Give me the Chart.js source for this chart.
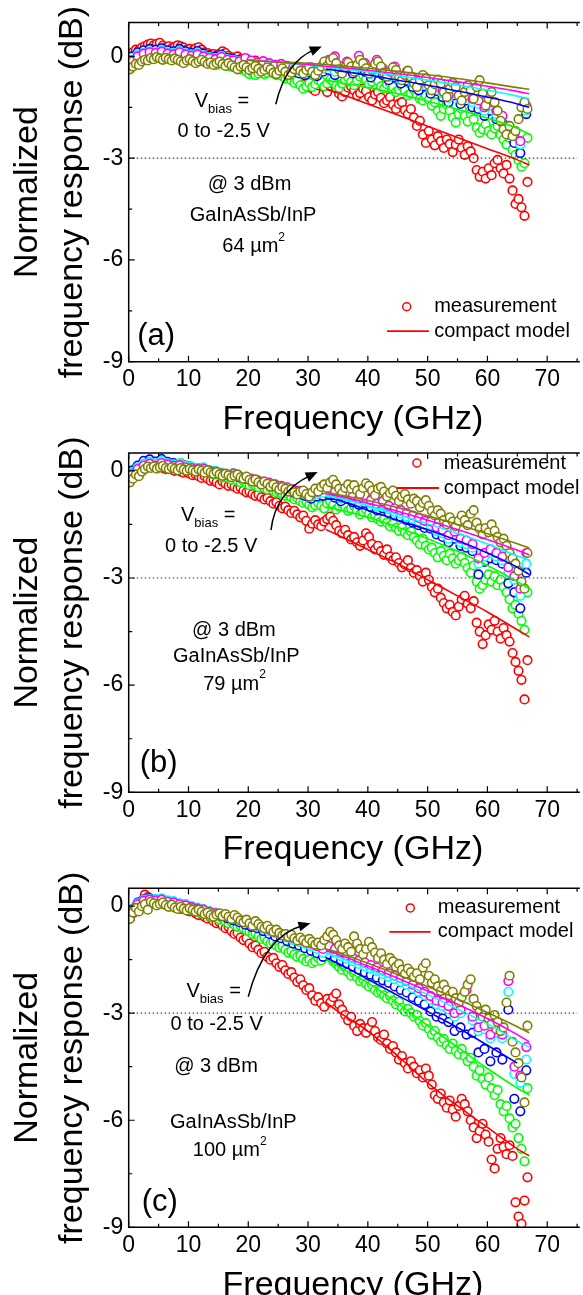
<!DOCTYPE html>
<html><head><meta charset="utf-8">
<script src="https://cdn.jsdelivr.net/npm/chart.js@4.4.1/dist/chart.umd.min.js"></script>
<style>
html,body{margin:0;padding:0;background:#fff;width:583px;height:1295px;overflow:hidden;position:relative}
canvas{position:absolute;left:0}
</style></head><body>
<canvas id="ca" width="583" height="440" style="top:0px"></canvas>
<canvas id="cb" width="583" height="440" style="top:430px"></canvas>
<canvas id="cc" width="583" height="446" style="top:860px"></canvas>
<script>
const FONT = "'Liberation Sans', Arial, Helvetica, sans-serif";

// ---------- shared categories / ticks ----------
const freqFine = [0.2,0.7,1.2,1.7,2.2,2.7,3.2,3.7,4.2,4.7,5.2,5.7,6.2,6.7,7.2,7.7,8.2,8.7,9.2,9.7,
10.2,10.7,11.2,11.7,12.2,12.7,13.2,13.7,14.2,14.7,15.2,15.7,16.2,16.7,17.2,17.7,18.2,18.7,19.2,19.7,
20.2,20.7,21.2,21.7,22.2,22.7,23.2,23.7,24.2,24.7,25.2,25.7,26.2,26.7,27.2,27.7,28.2,28.7,29.2,29.7,
30.2,30.7,31.2,31.7,32.2,32.7,33.2,33.7,34.2,34.7,35.2,35.7,36.2,36.7,37.2,37.7,38.2,38.7,39.2,39.7,
40.2,40.7,41.2,41.7,42.2,42.7,43.2,43.7,44.2,44.7,45.2,45.7,46.2,46.7,47.2,47.7,48.2,48.7,49.2,49.7,
50.2,50.7,51.2,51.7,52.2,52.7,53.2,53.7,54.2,54.7,55.2,55.7,56.2,56.7,57.2,57.7,58.2,58.7,59.2,59.7,
60.2,60.7,61.2,61.7,62.2,62.7,63.2,63.7,64.2,64.7,65.2,65.7,66.2,66.7];
const freqCoarse = [0.5,1.5,2.5,3.5,4.5,5.5,6.5,7.5,8.5,9.5,10.5,11.5,12.5,13.5,14.5,15.5,16.5,17.5,18.5,19.5,
20.5,21.5,22.5,23.5,24.5,25.5,26.5,27.5,28.5,29.5,30.5,31.5,32.5,33.5,34.5,35.5,36.5,37.5,38.5,39.5,
40.5,41.5,42.5,43.5,44.5,45.5,46.5,47.5,48.5,49.5,50.5,51.5,52.5,53.5,54.5,55.5,56.5,57.5,58.5,59.5,
60.5,61.5,62.5,63.5,64.5,65.5,66.5];
const modelFreq = [20,25,30,33,35,40,45,50,55,60,65,67];
const xTickValues = [0,10,20,30,40,50,60,70];
const xTickLabels = ['0','10','20','30','40','50','60','70'];
const yTickValues = [0,-3,-6,-9];
const yTickLabels = ['0','-3','-6','-9'];
const yTitleLines = ['Normalized','frequency response (dB)'];
const xTitle = 'Frequency (GHz)';
const legendLabels = ['measurement','compact model'];
const refLevel = -3;

// ---------- panel (a) 64 um2 ----------
const redA = [0.05,0.12,0.2,0.18,0.26,0.3,0.35,0.38,0.33,0.37,
0.4,0.32,0.27,0.3,0.24,0.28,0.33,0.3,0.26,0.2,
0.22,0.17,0.24,0.27,0.2,0.12,0.1,0.05,0.07,0.02,
0.08,0.15,0.1,0.02,-0.03,-0.05,0.0,-0.08,-0.12,-0.07,
-0.15,-0.18,-0.12,-0.2,-0.27,-0.22,-0.3,-0.35,-0.28,-0.4,
-0.45,-0.38,-0.52,-0.6,-0.55,-0.68,-0.75,-0.65,-0.82,-0.9,
-0.8,-0.95,-1.02,-0.85,-0.78,-0.92,-1.05,-0.88,-0.8,-0.95,
-1.1,-1.18,-1.05,-0.92,-0.88,-1.0,-1.15,-1.08,-0.95,-1.02,
-1.2,-1.3,-1.12,-1.05,-1.22,-1.38,-1.3,-1.2,-1.42,-1.55,
-1.4,-1.35,-1.58,-1.7,-1.55,-1.8,-2.05,-1.9,-2.3,-2.55,
-2.2,-2.45,-2.62,-2.35,-2.5,-2.7,-2.45,-2.58,-2.82,-2.6,
-2.45,-2.7,-2.9,-2.65,-2.8,-3.0,-3.35,-3.55,-3.4,-3.6,
-3.3,-3.5,-3.15,-3.05,-3.3,-3.45,-3.2,-3.6,-3.95,-4.35,
-4.2,-4.45,-4.7,-3.7];
const greenA = [-0.32,-0.25,-0.18,-0.12,-0.08,-0.05,-0.02,-0.04,0.0,0.02,
-0.03,-0.05,0.0,-0.04,-0.08,-0.05,-0.02,-0.06,-0.1,-0.12,
-0.08,-0.05,-0.1,-0.14,-0.1,-0.16,-0.2,-0.17,-0.22,-0.25,
-0.2,-0.15,-0.22,-0.28,-0.3,-0.25,-0.32,-0.38,-0.35,-0.45,
-0.52,-0.48,-0.55,-0.5,-0.45,-0.52,-0.48,-0.42,-0.5,-0.55,
-0.5,-0.58,-0.65,-0.6,-0.7,-0.78,-0.72,-0.85,-0.95,-0.88,
-0.78,-0.9,-0.82,-0.7,-0.75,-0.88,-0.8,-0.68,-0.72,-0.85,
-0.92,-0.8,-0.7,-0.62,-0.75,-0.85,-0.7,-0.6,-0.55,-0.68,
-0.82,-0.75,-0.65,-0.72,-0.88,-0.95,-0.82,-0.78,-0.9,-1.05,
-0.98,-0.88,-1.0,-1.15,-1.1,-0.98,-1.12,-1.25,-1.3,-1.15,
-1.28,-1.45,-1.35,-1.6,-1.75,-1.55,-1.42,-1.6,-1.8,-1.95,
-1.7,-1.55,-1.75,-1.92,-1.68,-1.85,-2.1,-2.25,-2.15,-2.0,
-2.2,-2.3,-2.12,-2.05,-2.3,-2.45,-2.6,-2.4,-2.75,-2.9,
-3.05,-3.25,-3.15,-2.4];
const blueA = [0.0,0.12,0.18,0.22,0.2,0.24,0.18,0.15,0.22,0.15,
0.1,0.16,0.08,0.02,0.0,0.05,-0.05,-0.08,-0.12,-0.08,
-0.15,-0.2,-0.18,-0.25,-0.32,-0.28,-0.38,-0.45,-0.5,-0.55,
-0.48,-0.58,-0.45,-0.4,-0.55,-0.48,-0.35,-0.5,-0.38,-0.45,
-0.62,-0.48,-0.55,-0.7,-0.62,-0.8,-0.72,-0.9,-1.0,-0.88,
-1.1,-1.02,-1.2,-1.35,-1.15,-1.4,-1.3,-1.5,-1.55,-1.75,
-1.6,-1.85,-1.95,-2.3,-2.55,-2.85,-1.7];
const cyanA = [-0.1,0.05,0.1,0.15,0.12,0.18,0.12,0.1,0.16,0.1,
0.05,0.1,0.04,-0.02,-0.05,0.02,-0.08,-0.1,-0.14,-0.1,
-0.15,-0.2,-0.16,-0.22,-0.28,-0.25,-0.32,-0.38,-0.42,-0.48,
-0.4,-0.5,-0.35,-0.3,-0.45,-0.38,-0.25,-0.4,-0.28,-0.35,
-0.52,-0.38,-0.45,-0.6,-0.52,-0.7,-0.6,-0.78,-0.9,-0.75,
-0.98,-0.9,-1.08,-1.22,-1.02,-1.28,-1.15,-1.35,-1.4,-1.6,
-1.45,-1.7,-1.8,-2.1,-2.35,-2.6,-1.6];
const magentaA = [-0.15,0.0,0.08,0.12,0.1,0.14,0.08,0.06,0.12,0.06,
0.02,0.06,0.0,-0.05,-0.08,-0.02,-0.1,-0.12,-0.15,-0.05,
-0.12,-0.18,-0.14,-0.2,-0.25,-0.22,-0.28,-0.32,-0.35,-0.4,
-0.32,-0.42,-0.25,-0.1,0.0,-0.3,-0.15,-0.3,0.02,-0.2,
-0.42,-0.1,-0.35,-0.5,-0.3,-0.6,-0.45,-0.62,-0.8,-0.6,
-0.9,-0.75,-1.0,-1.15,-0.9,-1.2,-1.0,-1.25,-1.3,-1.5,
-1.35,-1.6,-1.75,-2.05,-2.3,-2.5,-1.45];
const oliveA = [-0.38,-0.3,-0.22,-0.25,-0.15,-0.1,-0.12,-0.05,-0.08,-0.02,
-0.06,-0.1,-0.04,-0.08,-0.12,-0.06,-0.1,-0.15,-0.2,-0.12,
-0.08,-0.14,-0.2,-0.15,-0.1,-0.16,-0.22,-0.18,-0.25,-0.2,
-0.15,-0.22,-0.28,-0.2,-0.26,-0.32,-0.38,-0.3,-0.25,-0.32,
-0.4,-0.35,-0.28,-0.36,-0.45,-0.4,-0.32,-0.38,-0.48,-0.52,
-0.42,-0.35,-0.45,-0.55,-0.48,-0.38,-0.3,-0.42,-0.5,-0.4,
-0.32,-0.45,-0.55,-0.42,-0.3,-0.15,-0.28,-0.12,-0.05,-0.2,
-0.38,-0.5,-0.32,-0.18,-0.3,-0.45,-0.25,-0.1,-0.2,-0.35,
-0.5,-0.4,-0.22,-0.15,-0.3,-0.48,-0.6,-0.45,-0.32,-0.4,
-0.58,-0.7,-0.55,-0.42,-0.6,-0.78,-0.9,-0.7,-0.55,-0.65,
-0.85,-1.0,-0.82,-0.68,-0.8,-1.05,-1.2,-0.95,-0.78,-0.9,
-1.15,-1.3,-1.05,-0.85,-1.0,-1.25,-0.9,-0.7,-1.1,-1.45,
-1.25,-1.05,-1.35,-1.6,-1.9,-2.15,-2.3,-2.05,-2.35,-2.2,
-1.85,-1.5,-1.35,-1.55];
const modelRedA = [null,null,null,-0.95,-1.08,-1.4,-1.73,-2.06,-2.39,-2.72,-3.05,-3.2];
const modelGreenA = [null,null,null,-0.7,-0.76,-0.92,-1.1,-1.32,-1.56,-1.82,-2.12,-2.3];
const modelBlueA = [null,null,null,-0.37,-0.42,-0.55,-0.7,-0.85,-1.02,-1.2,-1.4,-1.5];
const modelCyanA = [-0.1,-0.18,-0.26,-0.31,-0.35,-0.45,-0.57,-0.7,-0.84,-0.99,-1.17,-1.25];
const modelMagentaA = [-0.1,-0.17,-0.24,-0.29,-0.32,-0.41,-0.51,-0.62,-0.75,-0.88,-1.03,-1.1];
const modelOliveA = [-0.12,-0.16,-0.2,-0.24,-0.27,-0.35,-0.44,-0.54,-0.65,-0.78,-0.92,-0.97];

// ---------- panel (b) 79 um2 ----------
const redB = [-0.15,0.0,0.08,0.12,0.15,0.22,0.18,0.12,0.15,0.1,
0.14,0.08,0.05,0.1,0.04,0.0,0.03,-0.02,-0.05,-0.02,
-0.08,-0.12,-0.1,-0.15,-0.2,-0.15,-0.22,-0.28,-0.25,-0.32,
-0.38,-0.3,-0.36,-0.42,-0.38,-0.45,-0.5,-0.46,-0.55,-0.6,
-0.58,-0.65,-0.7,-0.66,-0.74,-0.8,-0.76,-0.85,-0.92,-0.88,
-0.98,-1.05,-1.0,-1.1,-1.18,-1.12,-1.22,-1.3,-1.25,-1.4,
-1.62,-1.48,-1.38,-1.5,-1.55,-1.42,-1.35,-1.28,-1.4,-1.52,
-1.68,-1.75,-1.65,-1.8,-1.92,-1.85,-2.0,-2.1,-1.95,-1.75,
-1.85,-2.05,-2.2,-2.1,-2.25,-2.35,-2.2,-2.4,-2.5,-2.42,
-2.58,-2.7,-2.62,-2.5,-2.72,-2.85,-2.78,-2.95,-3.1,-2.85,
-3.05,-3.25,-3.4,-3.3,-3.55,-3.7,-3.85,-3.75,-3.95,-4.05,
-3.8,-3.6,-3.5,-3.72,-3.85,-3.65,-4.25,-4.5,-4.85,-4.6,
-4.3,-4.45,-4.2,-4.5,-4.7,-4.4,-4.6,-4.78,-5.1,-5.35,
-5.6,-5.85,-6.4,-5.3];
const greenB = [-0.08,0.02,0.08,0.12,0.18,0.25,0.22,0.26,0.2,0.24,
0.28,0.2,0.16,0.22,0.18,0.12,0.17,0.22,0.15,0.1,
0.14,0.08,0.03,0.07,0.0,-0.04,0.02,-0.06,-0.1,-0.05,
-0.12,-0.18,-0.14,-0.2,-0.25,-0.2,-0.27,-0.32,-0.28,-0.35,
-0.4,-0.36,-0.42,-0.46,-0.4,-0.48,-0.52,-0.47,-0.55,-0.6,
-0.58,-0.65,-0.7,-0.66,-0.74,-0.8,-0.76,-0.85,-0.9,-0.86,
-0.95,-1.02,-0.96,-0.9,-0.98,-1.05,-0.92,-0.85,-0.95,-1.08,
-1.0,-0.92,-1.02,-1.12,-1.05,-0.98,-1.1,-1.22,-1.15,-1.08,
-1.2,-1.3,-1.22,-1.35,-1.42,-1.35,-1.45,-1.55,-1.48,-1.6,
-1.68,-1.58,-1.72,-1.8,-1.7,-1.85,-1.95,-2.05,-1.9,-2.1,
-2.2,-2.15,-2.3,-2.42,-2.25,-2.38,-2.5,-2.32,-2.45,-2.6,
-2.5,-2.4,-2.58,-2.72,-2.85,-2.65,-3.1,-3.3,-3.2,-3.05,
-2.9,-3.1,-2.95,-3.2,-3.05,-3.25,-3.4,-3.6,-3.85,-3.75,
-4.0,-4.2,-4.45,-3.4];
const blueB = [0.0,0.15,0.28,0.32,0.26,0.33,0.25,0.22,0.18,0.15,
0.1,0.08,0.05,0.0,-0.02,-0.08,-0.12,-0.1,-0.18,-0.22,
-0.26,-0.3,-0.35,-0.38,-0.42,-0.48,-0.52,-0.6,-0.65,-0.7,
-0.78,-0.72,-0.7,-0.68,-0.75,-0.85,-0.78,-0.88,-0.95,-0.9,
-1.02,-1.1,-1.05,-1.18,-1.25,-1.3,-1.38,-1.45,-1.52,-1.6,
-1.62,-1.78,-1.85,-2.0,-1.9,-2.1,-2.15,-2.25,-2.9,-2.55,
-2.45,-2.5,-2.6,-3.15,-3.4,-3.85,-2.85];
const cyanB = [-0.05,0.1,0.2,0.25,0.2,0.28,0.22,0.18,0.2,0.14,
0.12,0.08,0.1,0.02,0.0,-0.05,-0.1,-0.06,-0.15,-0.2,
-0.24,-0.28,-0.32,-0.35,-0.4,-0.45,-0.5,-0.56,-0.6,-0.66,
-0.72,-0.65,-0.62,-0.58,-0.68,-0.78,-0.7,-0.8,-0.86,-0.8,
-0.92,-1.0,-0.95,-1.08,-1.15,-1.2,-1.28,-1.35,-1.42,-1.5,
-1.52,-1.68,-1.75,-1.9,-1.8,-2.0,-2.05,-2.15,-2.6,-2.4,
-2.3,-2.4,-2.5,-2.85,-3.05,-3.5,-2.6];
const magentaB = [-0.1,0.05,0.15,0.2,0.15,0.22,0.18,0.14,0.16,0.1,
0.08,0.05,0.06,0.0,-0.03,-0.08,-0.12,-0.08,-0.16,-0.2,
-0.22,-0.26,-0.3,-0.33,-0.38,-0.42,-0.46,-0.52,-0.56,-0.6,
-0.66,-0.58,-0.52,-0.45,-0.58,-0.7,-0.6,-0.7,-0.78,-0.68,
-0.82,-0.92,-0.85,-0.98,-1.05,-1.1,-1.18,-1.25,-1.32,-1.4,
-1.42,-1.58,-1.65,-1.8,-1.7,-1.9,-1.95,-2.05,-2.45,-2.3,
-2.2,-2.3,-2.4,-2.7,-2.95,-3.3,-2.3];
const oliveB = [-0.32,-0.22,-0.1,-0.15,-0.02,0.05,0.12,0.08,0.12,0.06,
0.1,0.14,0.08,0.05,0.1,0.06,0.02,0.08,0.04,0.0,
0.05,0.02,-0.02,0.04,0.0,-0.05,0.02,-0.04,-0.08,-0.03,
-0.1,-0.14,-0.08,-0.12,-0.18,-0.14,-0.1,-0.18,-0.22,-0.16,
-0.25,-0.3,-0.24,-0.32,-0.38,-0.3,-0.36,-0.44,-0.38,-0.46,
-0.52,-0.45,-0.5,-0.58,-0.52,-0.6,-0.66,-0.58,-0.55,-0.65,
-0.72,-0.6,-0.5,-0.58,-0.45,-0.38,-0.48,-0.32,-0.25,-0.38,
-0.5,-0.62,-0.48,-0.38,-0.5,-0.4,-0.55,-0.65,-0.48,-0.35,
-0.42,-0.55,-0.68,-0.5,-0.45,-0.58,-0.72,-0.62,-0.55,-0.7,
-0.85,-0.72,-0.65,-0.8,-0.92,-0.78,-0.85,-1.02,-0.9,-0.82,
-0.98,-1.12,-1.25,-1.1,-1.2,-1.38,-1.5,-1.3,-1.42,-1.55,
-1.4,-1.25,-1.38,-1.52,-1.2,-1.1,-1.45,-1.62,-1.78,-1.6,
-1.72,-1.5,-1.68,-1.85,-2.0,-1.9,-2.1,-2.3,-2.45,-2.6,
-2.8,-3.1,-3.3,-2.3];
const modelRedB = [null,null,null,-1.64,-1.8,-2.2,-2.6,-3.05,-3.5,-3.95,-4.45,-4.65];
const modelGreenB = [null,null,null,-1.0,-1.08,-1.3,-1.58,-1.9,-2.25,-2.65,-3.1,-3.3];
const modelBlueB = [null,null,null,-0.76,-0.82,-1.1,-1.38,-1.65,-1.95,-2.3,-2.7,-2.9];
const modelCyanB = [null,null,null,-0.7,-0.75,-0.98,-1.22,-1.48,-1.75,-2.05,-2.38,-2.5];
const modelMagentaB = [null,null,null,-0.64,-0.7,-0.9,-1.13,-1.38,-1.64,-1.92,-2.22,-2.35];
const modelOliveB = [null,null,null,-0.6,-0.66,-0.83,-1.03,-1.26,-1.5,-1.76,-2.04,-2.16];

// ---------- panel (c) 100 um2 ----------
const redC = [-0.35,-0.2,-0.05,0.05,0.15,0.32,0.25,0.18,0.12,0.15,
0.1,0.06,0.1,0.04,0.0,0.02,-0.04,-0.08,-0.05,-0.12,
-0.15,-0.12,-0.2,-0.25,-0.22,-0.3,-0.35,-0.32,-0.42,-0.48,
-0.45,-0.55,-0.62,-0.58,-0.7,-0.78,-0.75,-0.88,-0.95,-0.9,
-1.05,-1.15,-1.1,-1.22,-1.32,-1.28,-1.42,-1.5,-1.45,-1.6,
-1.7,-1.65,-1.8,-1.9,-1.85,-2.0,-2.12,-2.05,-2.22,-2.35,
-2.3,-2.5,-2.65,-2.55,-2.72,-2.82,-2.6,-2.7,-2.55,-2.45,
-2.75,-2.9,-3.05,-3.2,-3.1,-3.35,-3.5,-3.3,-3.42,-3.55,
-3.4,-3.25,-3.5,-3.68,-3.75,-3.6,-3.85,-4.0,-3.92,-4.1,
-4.3,-4.2,-4.4,-4.55,-4.35,-4.5,-4.68,-4.6,-4.8,-4.55,
-4.75,-5.0,-5.3,-5.4,-5.25,-5.5,-5.65,-5.45,-5.7,-5.9,
-5.6,-5.4,-5.55,-5.75,-6.0,-6.2,-6.5,-6.3,-6.1,-6.4,
-6.6,-7.1,-7.35,-6.8,-6.5,-6.75,-6.95,-6.7,-7.0,-8.3,
-8.7,-8.9,-8.25,-7.6];
const greenC = [-0.25,-0.12,0.0,0.05,0.1,0.15,0.12,0.18,0.14,0.1,
0.15,0.08,0.04,0.08,0.02,0.0,0.04,-0.03,-0.06,-0.02,
-0.08,-0.12,-0.1,-0.16,-0.2,-0.17,-0.24,-0.3,-0.26,-0.33,
-0.38,-0.35,-0.42,-0.48,-0.44,-0.52,-0.58,-0.55,-0.62,-0.68,
-0.72,-0.78,-0.75,-0.85,-0.92,-0.88,-0.98,-1.05,-1.0,-1.1,
-1.16,-1.12,-1.22,-1.3,-1.26,-1.35,-1.42,-1.38,-1.48,-1.55,
-1.5,-1.6,-1.55,-1.45,-1.52,-1.38,-1.3,-1.42,-1.55,-1.62,
-1.7,-1.78,-1.72,-1.85,-1.95,-1.88,-2.0,-2.1,-2.05,-2.18,
-2.25,-2.2,-2.35,-2.42,-2.38,-2.5,-2.58,-2.52,-2.65,-2.75,
-2.68,-2.85,-2.95,-2.88,-3.0,-3.1,-3.05,-3.22,-3.35,-3.28,
-3.45,-3.6,-3.5,-3.68,-3.8,-3.72,-3.9,-4.0,-3.85,-4.05,
-4.15,-4.0,-4.2,-4.35,-4.25,-4.5,-4.75,-4.6,-4.85,-5.0,
-4.8,-5.1,-5.3,-5.15,-5.55,-5.75,-5.6,-5.95,-6.2,-6.1,
-6.5,-6.8,-7.15,-5.1];
const blueC = [-0.1,0.1,0.2,0.22,0.18,0.2,0.14,0.12,0.06,0.04,
-0.02,-0.06,-0.12,-0.18,-0.22,-0.28,-0.34,-0.4,-0.45,-0.52,
-0.58,-0.62,-0.7,-0.78,-0.85,-0.9,-0.98,-1.05,-1.1,-1.18,
-1.25,-1.32,-1.42,-1.35,-1.45,-1.55,-1.62,-1.7,-1.78,-1.85,
-1.92,-2.0,-2.08,-2.15,-2.25,-2.35,-2.42,-2.55,-2.65,-2.75,
-2.95,-3.1,-3.15,-3.25,-3.5,-3.4,-3.6,-3.55,-4.1,-4.0,
-4.35,-4.1,-4.3,-2.9,-5.4,-5.75,-4.6];
const cyanC = [-0.12,0.08,0.18,0.2,0.2,0.22,0.16,0.14,0.08,0.06,
0.0,-0.04,-0.08,-0.14,-0.18,-0.24,-0.3,-0.35,-0.4,-0.46,
-0.52,-0.56,-0.63,-0.7,-0.76,-0.82,-0.88,-0.95,-1.0,-1.06,
-1.12,-1.2,-1.3,-1.22,-1.3,-1.4,-1.48,-1.55,-1.62,-1.68,
-1.75,-1.82,-1.9,-1.98,-2.05,-2.12,-2.2,-2.3,-2.4,-2.5,
-2.62,-2.75,-2.8,-2.9,-3.1,-3.0,-2.6,-3.2,-3.5,-3.45,
-3.7,-3.55,-3.7,-2.4,-4.7,-4.95,-4.3];
const magentaC = [-0.15,0.05,0.15,0.18,0.16,0.18,0.12,0.1,0.05,0.02,
-0.03,-0.07,-0.1,-0.16,-0.2,-0.26,-0.3,-0.34,-0.38,-0.44,
-0.5,-0.54,-0.6,-0.66,-0.72,-0.78,-0.84,-0.9,-0.95,-1.0,
-1.05,-1.12,-1.2,-1.12,-1.2,-1.3,-1.38,-1.45,-1.52,-1.58,
-1.65,-1.72,-1.8,-1.88,-1.95,-2.02,-2.1,-2.2,-2.3,-2.4,
-2.52,-2.65,-2.7,-2.8,-3.0,-2.9,-2.35,-3.1,-3.4,-3.35,
-3.6,-3.45,-3.6,-2.1,-4.5,-4.75,-3.95];
const oliveC = [-0.35,-0.18,-0.05,-0.15,0.0,0.05,-0.1,0.12,0.08,0.02,
0.06,0.1,0.03,-0.02,0.04,-0.04,-0.08,-0.02,-0.07,-0.12,
-0.06,-0.1,-0.15,-0.1,-0.16,-0.22,-0.18,-0.25,-0.3,-0.24,
-0.2,-0.28,-0.22,-0.3,-0.36,-0.25,-0.32,-0.4,-0.45,-0.38,
-0.48,-0.55,-0.42,-0.5,-0.58,-0.62,-0.55,-0.65,-0.72,-0.66,
-0.75,-0.82,-0.78,-0.86,-0.8,-0.9,-0.96,-0.88,-0.95,-1.02,
-0.92,-1.0,-1.08,-1.02,-1.1,-0.95,-0.85,-0.72,-0.8,-0.95,
-1.1,-1.2,-1.05,-1.15,-1.28,-0.85,-1.05,-1.2,-1.35,-1.2,
-1.0,-1.15,-1.3,-1.45,-1.32,-1.5,-1.62,-1.45,-1.55,-1.7,
-1.62,-1.78,-1.9,-1.75,-1.85,-1.98,-1.88,-2.05,-1.72,-1.6,
-1.95,-2.15,-2.05,-2.25,-2.38,-2.2,-2.35,-2.5,-2.4,-2.58,
-2.7,-2.55,-2.4,-2.2,-2.05,-2.6,-2.8,-2.95,-3.1,-2.9,
-3.15,-3.3,-3.05,-3.25,-3.5,-3.4,-2.7,-1.95,-3.8,-4.1,
-4.4,-4.8,-5.5,-3.35];
const modelRedC = [null,null,null,-2.7,-2.95,-3.5,-4.2,-4.95,-5.6,-6.2,-6.8,-7.0];
const modelGreenC = [null,null,null,-1.5,-1.68,-2.15,-2.72,-3.35,-3.95,-4.55,-5.1,-5.3];
const modelBlueC = [null,null,null,-1.45,-1.6,-2.05,-2.5,-2.95,-3.4,-3.9,-4.4,null];
const modelCyanC = [null,null,null,-1.3,-1.42,-1.76,-2.1,-2.48,-2.88,-3.3,-3.78,-3.95];
const modelMagentaC = [null,null,null,-1.25,-1.35,-1.68,-2.02,-2.38,-2.75,-3.15,-3.6,-3.8];
const modelOliveC = [null,null,null,-1.2,-1.3,-1.6,-1.92,-2.25,-2.6,-2.98,-3.38,-3.55];

// ---------- styling ----------
const SERIES = ['red','green','blue','cyan','magenta','olive'];
const COLORS = {red:'#ff0000', green:'#00ff00', blue:'#0000ff', cyan:'#00ffff', magenta:'#ff00ff', olive:'#808000'};
const FREQ_OF = {red:freqFine, green:freqFine, olive:freqFine, blue:freqCoarse, cyan:freqCoarse, magenta:freqCoarse};

function pts(name, xs, ys) {
  if (xs.length !== ys.length) throw new Error('length mismatch ' + name + ': ' + xs.length + ' vs ' + ys.length);
  return xs.map((x, i) => ({x: x, y: ys[i]}));
}

const panels = [
  { id:'ca', padTop:22.5, xAxisH:78.3, yMax:1,
    meas:{red:redA, green:greenA, blue:blueA, cyan:cyanA, magenta:magentaA, olive:oliveA},
    model:{red:modelRedA, green:modelGreenA, blue:modelBlueA, cyan:modelCyanA, magenta:modelMagentaA, olive:modelOliveA},
    ann:{ vb:[15.6,-1.34], range:[15.9,-2.22], arrow:[[24.6,-1.41],[26.3,-0.15],[32.3,0.29]],
          lines:[['@ 3 dBm','',20.2,-3.79],['GaInAsSb/InP','',20.8,-4.68],['64 µm','2',20.9,-5.61]],
          tag:['(a)',4.6,-8.27], leg:{mk:[46.5,-7.38], tx:51.1, ln:[43.2,50.2,-8.1]} } },
  { id:'cb', padTop:23, xAxisH:77.7, yMax:0.5,
    meas:{red:redB, green:greenB, blue:blueB, cyan:cyanB, magenta:magentaB, olive:oliveB},
    model:{red:modelRedB, green:modelGreenB, blue:modelBlueB, cyan:modelCyanB, magenta:modelMagentaB, olive:modelOliveB},
    ann:{ vb:[13.3,-1.24], range:[13.8,-2.11], arrow:[[23.8,-1.66],[24.5,-0.6],[31.6,-0.03]],
          lines:[['@ 3 dBm','',17.6,-4.46],['GaInAsSb/InP','',18.0,-5.21],['79 µm','2',17.7,-5.97]],
          tag:['(b)',5.0,-8.2], leg:{mk:[48.2,0.22], tx:52.7, ln:[44.8,51.9,-0.48]} } },
  { id:'cc', padTop:28.3, xAxisH:78.7, yMax:0.5,
    meas:{red:redC, green:greenC, blue:blueC, cyan:cyanC, magenta:magentaC, olive:oliveC},
    model:{red:modelRedC, green:modelGreenC, blue:modelBlueC, cyan:modelCyanC, magenta:modelMagentaC, olive:modelOliveC},
    ann:{ vb:[14.2,-2.4], range:[14.7,-3.32], arrow:[[20.0,-2.54],[22.6,-0.85],[30.4,-0.48]],
          lines:[['@ 3 dBm','',14.6,-4.49],['GaInAsSb/InP','',17.5,-6.06],['100 µm','2',16.9,-6.85]],
          tag:['(c)',5.2,-8.29], leg:{mk:[47.1,-0.05], tx:51.7, ln:[43.6,50.5,-0.72]} } }
];

function decor(A) {
  return {
    id: 'decor',
    afterDraw(chart) {
      const ctx = chart.ctx, ca = chart.chartArea, xs = chart.scales.x, ys = chart.scales.y;
      const X = v => xs.getPixelForValue(v), Y = v => ys.getPixelForValue(v);
      const f = s => s + 'px ' + FONT;
      ctx.save();
      // frame
      ctx.strokeStyle = '#000'; ctx.lineWidth = 1.5; ctx.lineCap = 'square';
      ctx.beginPath();
      ctx.moveTo(ca.left, ca.top); ctx.lineTo(ca.left, ca.bottom); ctx.lineTo(ca.right + 2, ca.bottom);
      ctx.moveTo(ca.left, ca.top); ctx.lineTo(ca.right + 2, ca.top);
      ctx.stroke();
      // inward ticks
      ctx.lineWidth = 1.2; ctx.lineCap = 'butt';
      ctx.beginPath();
      for (let v = 0; v <= 75; v += 5) {
        const px = X(v), len = (v % 10 === 0) ? 6 : 3.5;
        ctx.moveTo(px, ca.bottom); ctx.lineTo(px, ca.bottom - len);
        ctx.moveTo(px, ca.top); ctx.lineTo(px, ca.top + len);
      }
      for (let v = -9; v <= ys.max + 1e-9; v += 1.5) {
        const py = Y(v), len = (Math.abs(v % 3) < 1e-9) ? 6 : 3.5;
        ctx.moveTo(ca.left, py); ctx.lineTo(ca.left + len, py);
      }
      ctx.stroke();
      // y title (two lines, rotated)
      const cy = (ca.top + ca.bottom) / 2;
      ctx.fillStyle = '#000'; ctx.textAlign = 'center'; ctx.textBaseline = 'middle'; ctx.font = f(34);
      [28, 73].forEach((cx, i) => {
        ctx.save(); ctx.translate(cx, cy); ctx.rotate(-Math.PI / 2);
        ctx.fillText(yTitleLines[i], 0, 0); ctx.restore();
      });
      // helper for centered multi-part text
      function centered(parts, cx, cyy) {
        let w = 0;
        parts.forEach(p => { ctx.font = f(p.s); p.w = ctx.measureText(p.t).width; w += p.w; });
        let xx = cx - w / 2;
        ctx.textAlign = 'left';
        parts.forEach(p => { ctx.font = f(p.s); ctx.fillText(p.t, xx, cyy + (p.dy || 0)); xx += p.w; });
      }
      centered([{t:'V', s:20}, {t:'bias', s:13, dy:8}, {t:' =', s:20}], X(A.vb[0]), Y(A.vb[1]));
      centered([{t:'0 to -2.5 V', s:20}], X(A.range[0]), Y(A.range[1]));
      A.lines.forEach(l => {
        const parts = [{t:l[0], s:20}];
        if (l[1]) parts.push({t:l[1], s:12, dy:-9});
        centered(parts, X(l[2]), Y(l[3]));
      });
      // arrow
      const S = [X(A.arrow[0][0]), Y(A.arrow[0][1])], C = [X(A.arrow[1][0]), Y(A.arrow[1][1])], E = [X(A.arrow[2][0]), Y(A.arrow[2][1])];
      const ang = Math.atan2(E[1] - C[1], E[0] - C[0]);
      const L = 12, W = 5;
      const Eb = [E[0] - 8 * Math.cos(ang), E[1] - 8 * Math.sin(ang)];
      ctx.strokeStyle = '#000'; ctx.lineWidth = 1.5;
      ctx.beginPath(); ctx.moveTo(S[0], S[1]); ctx.quadraticCurveTo(C[0], C[1], Eb[0], Eb[1]); ctx.stroke();
      ctx.beginPath();
      ctx.moveTo(E[0], E[1]);
      ctx.lineTo(E[0] - L * Math.cos(ang) + W * Math.sin(ang), E[1] - L * Math.sin(ang) - W * Math.cos(ang));
      ctx.lineTo(E[0] - L * Math.cos(ang) - W * Math.sin(ang), E[1] - L * Math.sin(ang) + W * Math.cos(ang));
      ctx.closePath(); ctx.fill();
      // panel tag
      ctx.font = f(31); ctx.textAlign = 'center';
      ctx.fillText(A.tag[0], X(A.tag[1]), Y(A.tag[2]));
      // legend
      const lg = A.leg;
      ctx.strokeStyle = COLORS.red; ctx.lineWidth = 1.5; ctx.fillStyle = '#fff';
      ctx.beginPath(); ctx.arc(X(lg.mk[0]), Y(lg.mk[1]), 4, 0, Math.PI * 2); ctx.fill(); ctx.stroke();
      ctx.lineWidth = 1.8;
      ctx.beginPath(); ctx.moveTo(X(lg.ln[0]), Y(lg.ln[2])); ctx.lineTo(X(lg.ln[1]), Y(lg.ln[2])); ctx.stroke();
      ctx.fillStyle = '#000'; ctx.font = f(20); ctx.textAlign = 'left';
      ctx.fillText(legendLabels[0], X(lg.tx), Y(lg.mk[1]));
      ctx.fillText(legendLabels[1], X(lg.tx), Y(lg.ln[2]));
      ctx.restore();
    }
  };
}

panels.forEach(P => {
  const canvas = document.getElementById(P.id);
  const datasets = [];
  datasets.push({ data: [{x:0, y:refLevel}, {x:75, y:refLevel}], showLine:true, borderColor:'#444',
                  borderWidth:1.2, borderDash:[1.5,2.5], pointRadius:0, order:0 });
  SERIES.forEach((c, k) => {
    datasets.push({ data: pts(P.id + ' model ' + c, modelFreq, P.model[c]), showLine:true, borderColor:COLORS[c],
                    borderWidth:1.6, pointRadius:0, order: 1 + (5 - k), cubicInterpolationMode:'monotone', spanGaps:false });
    datasets.push({ data: pts(P.id + ' meas ' + c, FREQ_OF[c], P.meas[c]), showLine:false, pointRadius:4.3,
                    pointBorderWidth:1.6, pointBorderColor:COLORS[c], pointBackgroundColor:'#ffffff',
                    borderColor:COLORS[c], backgroundColor:'#ffffff', order: 10 + (5 - k) });
  });
  new Chart(canvas, {
    type: 'scatter',
    data: { datasets },
    options: {
      responsive:false, animation:false, devicePixelRatio:1, events:[],
      layout:{ padding:{ top:P.padTop, left:0, right:0, bottom:0 } },
      plugins:{ legend:{display:false}, tooltip:{enabled:false} },
      scales:{
        x:{ type:'linear', position:'bottom', min:0, max:75,
            afterBuildTicks: s => { s.ticks = xTickValues.map(v => ({value:v})); },
            afterFit: s => { s.height = P.xAxisH; },
            ticks:{ font:{family:FONT, size:23}, color:'#000', padding:4.5, maxRotation:0, autoSkip:false,
                    callback:(v, i) => xTickLabels[i] },
            grid:{ display:false, drawTicks:false }, border:{ display:false },
            title:{ display:true, text:xTitle, color:'#000', font:{family:FONT, size:34}, padding:{top:0, bottom:0} } },
        y:{ type:'linear', position:'left', min:-9, max:P.yMax,
            afterBuildTicks: s => { s.ticks = yTickValues.map(v => ({value:v})); },
            afterFit: s => { s.width = 128.7; },
            ticks:{ font:{family:FONT, size:23}, color:'#000', padding:5.5, autoSkip:false,
                    callback:(v, i) => yTickLabels[i] },
            grid:{ display:false, drawTicks:false }, border:{ display:false },
            title:{ display:false } }
      }
    },
    plugins:[decor(P.ann)]
  });
});
</script></body></html>
